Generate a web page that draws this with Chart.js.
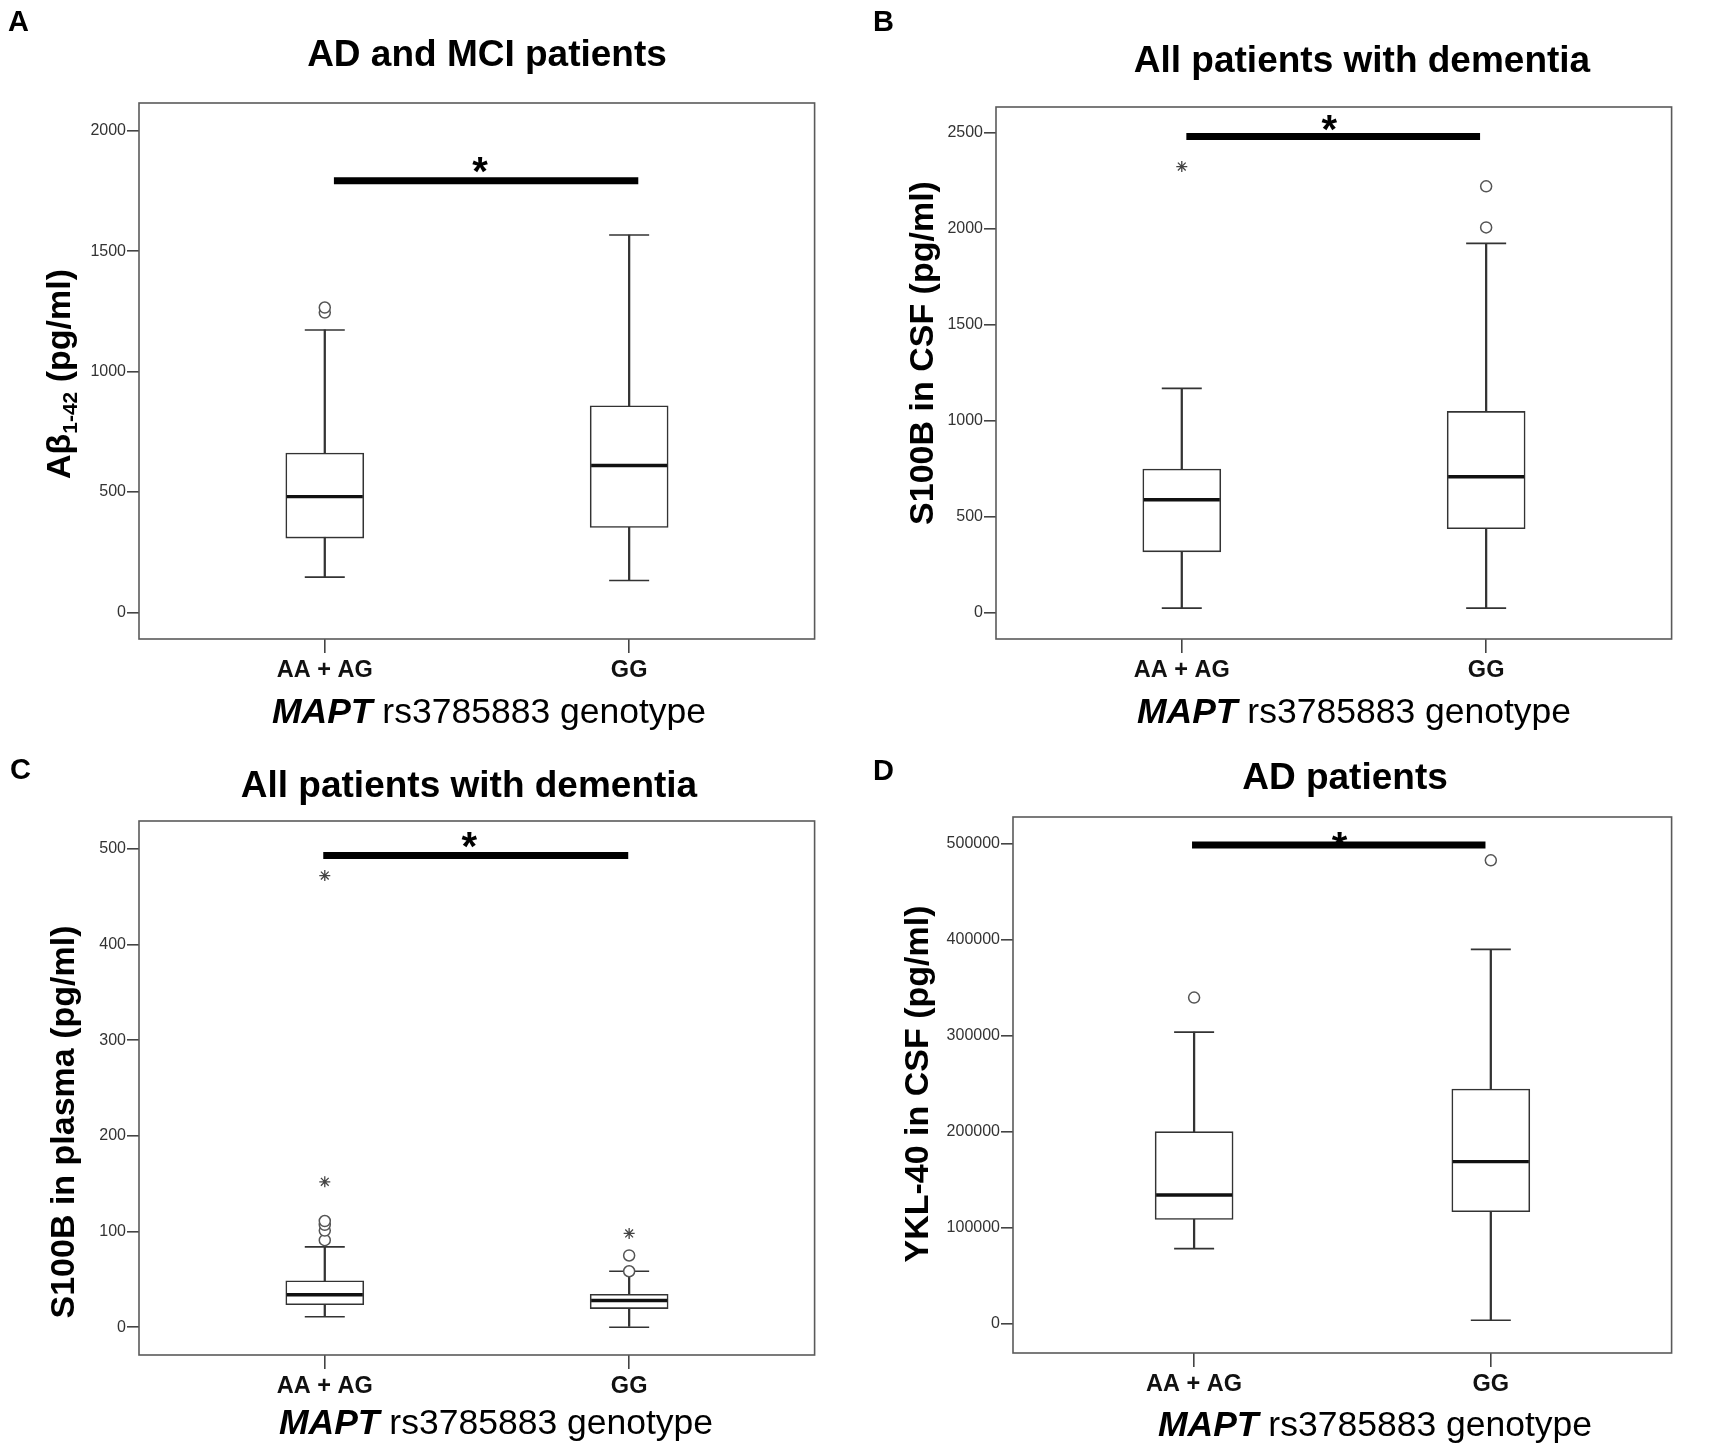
<!DOCTYPE html>
<html>
<head>
<meta charset="utf-8">
<script src="https://cdn.jsdelivr.net/npm/chart.js@4.4.1/dist/chart.umd.min.js"></script>
<style>
  html, body { margin: 0; padding: 0; background: #fff; }
  #page { position: relative; width: 1713px; height: 1448px; background: #fff; overflow: hidden; }
  #page canvas { position: absolute; }
</style>
</head>
<body>
<div id="page">
  <canvas id="panelA" width="856" height="750" style="left:0;top:0"></canvas>
  <canvas id="panelB" width="857" height="750" style="left:856px;top:0"></canvas>
  <canvas id="panelC" width="856" height="724" style="left:0;top:724px"></canvas>
  <canvas id="panelD" width="857" height="724" style="left:856px;top:724px"></canvas>
</div>
<script>
// genotype groups, shared by every panel
const genotypes = ['AA + AG', 'GG']
const xTitleRuns = [['MAPT', 'italic'], [' rs3785883 genotype', 'normal']]

// A - Abeta 1-42, AD and MCI patients
const aTitle = 'AD and MCI patients'
const aYTitle = [['Aβ', 'normal'], ['1-42', 'sub'], [' (pg/ml)', 'normal']]
const aLow = [147, 133]
const aQ1 = [309, 353]
const aMedian = [481, 610]
const aQ3 = [662, 858]
const aHigh = [1173, 1567]
const aOutliers = [[1245, 1266], []]
const aExtremes = [[], []]
const aTicks = [0, 500, 1000, 1500, 2000]
const aRange = [-110, 2115]
const aBracket = [1.03, 2.03, 1792]
const aStar = [1.51, 1872]

// B - S100B in CSF, all patients with dementia
const bTitle = 'All patients with dementia'
const bYTitle = [['S100B in CSF (pg/ml)', 'normal']]
const bLow = [26, 26]
const bQ1 = [319, 439]
const bMedian = [590, 710]
const bQ3 = [750, 1050]
const bHigh = [1170, 1925]
const bOutliers = [[], [2008, 2222]]
const bExtremes = [[2325], []]
const bTicks = [0, 500, 1000, 1500, 2000, 2500]
const bRange = [-135, 2635]
const bBracket = [1.015, 1.98, 2481]
const bStar = [1.485, 2567]

// C - S100B in plasma, all patients with dementia
const cTitle = 'All patients with dementia'
const cYTitle = [['S100B in plasma (pg/ml)', 'normal']]
const cLow = [11, 0]
const cQ1 = [23.5, 19.5]
const cMedian = [34, 28]
const cQ3 = [48.5, 34.5]
const cHigh = [84, 58.5]
const cOutliers = [[91, 101, 107, 111], [58.5, 75]]
const cExtremes = [[152, 472], [98]]
const cTicks = [0, 100, 200, 300, 400, 500]
const cRange = [-29, 529]
const cBracket = [0.995, 1.997, 493]
const cStar = [1.475, 512]

// D - YKL-40 in CSF, AD patients
const dTitle = 'AD patients'
const dYTitle = [['YKL-40 in CSF (pg/ml)', 'normal']]
const dLow = [78500, 3900]
const dQ1 = [108900, 117000]
const dMedian = [134400, 169100]
const dQ3 = [200400, 244700]
const dHigh = [304000, 390200]
const dOutliers = [[340000], [483000]]
const dExtremes = [[], []]
const dTicks = [0, 100000, 200000, 300000, 400000, 500000]
const dRange = [-30200, 528100]
const dBracket = [0.993, 1.982, 499000]
const dStar = [1.49, 507700]

const xRange = [0.3896, 2.6093]
const groupX = [1, 2]
const FONT = '"Liberation Sans", Arial, Helvetica, sans-serif'

// draws a line of mixed-style text centred on (0, 0) of the current transform
function drawRuns(ctx, runs, size, weight) {
  const fontFor = k => {
    const w = weight === 'bold' || k === 'italic' ? 'bold ' : ''
    if (k === 'italic') return `italic bold ${size}px ${FONT}`
    if (k === 'sub') return `${w}${Math.round(size * 0.62)}px ${FONT}`
    return `${w}${size}px ${FONT}`
  }
  let total = 0
  const widths = runs.map(([txt, k]) => {
    ctx.font = fontFor(k)
    const w = ctx.measureText(txt).width
    total += w
    return w
  })
  let x = -total / 2
  ctx.textAlign = 'left'
  ctx.textBaseline = 'alphabetic'
  runs.forEach(([txt, k], i) => {
    ctx.font = fontFor(k)
    ctx.fillText(txt, x, k === 'sub' ? size * 0.55 : size * 0.36)
    x += widths[i]
  })
}

const panelDecor = {
  id: 'panelDecor',
  afterDraw(chart, args, o) {
    const { ctx, chartArea: a, scales: { x, y } } = chart
    ctx.save()
    ctx.strokeStyle = '#5a5a5a'
    ctx.lineWidth = 1.6
    ctx.strokeRect(a.left, a.top, a.right - a.left, a.bottom - a.top)

    ctx.fillStyle = '#000'
    ctx.font = `bold 29px ${FONT}`
    ctx.textAlign = 'left'
    ctx.textBaseline = 'middle'
    ctx.fillText(o.letter, o.letterAt[0], o.letterAt[1])

    ctx.font = `bold 37px ${FONT}`
    ctx.textAlign = 'center'
    ctx.fillText(o.title, o.titleAt[0], o.titleAt[1])

    // significance asterisk, anchored on the data scales
    ctx.font = `bold 40px ${FONT}`
    ctx.textBaseline = 'alphabetic'
    ctx.fillText('*', x.getPixelForValue(o.star[0]), y.getPixelForValue(o.star[1]) + 23)

    ctx.save()
    ctx.translate(o.yTitleAt[0], o.yTitleAt[1])
    ctx.rotate(-Math.PI / 2)
    drawRuns(ctx, o.yTitle, 34, 'bold')
    ctx.restore()

    ctx.save()
    ctx.translate(o.xTitleAt[0], o.xTitleAt[1])
    drawRuns(ctx, xTitleRuns, 35.5, 'normal')
    ctx.restore()
    ctx.restore()
  }
}

function boxPanel(id, p) {
  const canvas = document.getElementById(id)
  const W = canvas.width
  const H = canvas.height
  const f = p.frame
  const points = (lists) => lists.flatMap((vals, i) => vals.map(v => ({ x: groupX[i], y: v })))

  const datasets = [
    {
      type: 'bar', label: 'whisker', grouped: false, order: 6,
      data: groupX.map((gx, i) => ({ x: gx, y: [p.low[i], p.high[i]] })),
      barThickness: 1.6, backgroundColor: '#333', borderWidth: 0
    },
    {
      type: 'bar', label: 'box', grouped: false, order: 5,
      data: groupX.map((gx, i) => ({ x: gx, y: [p.q1[i], p.q3[i]] })),
      barThickness: 78, backgroundColor: '#fff', borderColor: '#333',
      borderWidth: 1.6, borderSkipped: false
    },
    {
      type: 'scatter', label: 'median', order: 4,
      data: groupX.map((gx, i) => ({ x: gx, y: p.median[i] })),
      pointStyle: 'line', pointRadius: 38, pointBorderWidth: 3.4, pointBorderColor: '#111'
    },
    {
      type: 'scatter', label: 'caps', order: 4,
      data: points([[p.low[0], p.high[0]], [p.low[1], p.high[1]]]),
      pointStyle: 'line', pointRadius: 20, pointBorderWidth: 1.6, pointBorderColor: '#333'
    },
    {
      type: 'scatter', label: 'outliers', order: 3,
      data: points(p.outliers),
      pointStyle: 'circle', pointRadius: 5.5, pointBorderWidth: 1.5,
      pointBorderColor: '#555', pointBackgroundColor: '#fff'
    },
    {
      type: 'scatter', label: 'extremes', order: 3,
      data: points(p.extremes),
      pointStyle: 'star', pointRadius: 5.5, pointBorderWidth: 1.3, pointBorderColor: '#444'
    },
    {
      type: 'line', label: 'signif', order: 2,
      data: [{ x: p.bracket[0], y: p.bracket[2] }, { x: p.bracket[1], y: p.bracket[2] }],
      borderColor: '#000', borderWidth: 7, borderCapStyle: 'butt', pointRadius: 0, fill: false
    }
  ]

  return new Chart(canvas, {
    type: 'scatter',
    data: { datasets },
    options: {
      responsive: false,
      animation: false,
      devicePixelRatio: 1,
      events: [],
      layout: { padding: { left: 0, top: f.top, right: W - f.right, bottom: 0 } },
      plugins: {
        legend: { display: false },
        tooltip: { enabled: false },
        panelDecor: p.decor
      },
      scales: {
        x: {
          type: 'linear', min: xRange[0], max: xRange[1], offset: false,
          afterBuildTicks: s => { s.ticks = groupX.map(v => ({ value: v })) },
          afterFit: s => { s.height = H - f.bottom },
          border: { display: false },
          grid: { offset: false, drawOnChartArea: false, drawTicks: true, tickLength: 14, color: '#444', lineWidth: 1.6 },
          ticks: {
            callback: (v, i) => genotypes[i],
            font: { family: FONT, size: 23.5, weight: 'bold' }, color: '#111',
            padding: 3, maxRotation: 0, autoSkip: false
          }
        },
        y: {
          type: 'linear', min: p.range[0], max: p.range[1],
          afterBuildTicks: s => { s.ticks = p.ticks.map(v => ({ value: v })) },
          afterFit: s => { s.width = f.left },
          border: { display: false },
          grid: { offset: false, drawOnChartArea: false, drawTicks: true, tickLength: 12, color: '#444', lineWidth: 1.6 },
          ticks: {
            callback: v => String(v),
            font: { family: FONT, size: 16 }, color: '#333', padding: 1
          }
        }
      }
    },
    plugins: [panelDecor]
  })
}

boxPanel('panelA', {
  low: aLow, q1: aQ1, median: aMedian, q3: aQ3, high: aHigh,
  outliers: aOutliers, extremes: aExtremes, ticks: aTicks, range: aRange, bracket: aBracket,
  frame: { left: 139, top: 103, right: 824, bottom: 639 },
  decor: { letter: 'A', letterAt: [8, 23], title: aTitle, titleAt: [487, 56], star: aStar,
           yTitle: aYTitle, yTitleAt: [58, 374], xTitleAt: [489, 710] }
})

boxPanel('panelB', {
  low: bLow, q1: bQ1, median: bMedian, q3: bQ3, high: bHigh,
  outliers: bOutliers, extremes: bExtremes, ticks: bTicks, range: bRange, bracket: bBracket,
  frame: { left: 140, top: 107, right: 849, bottom: 639 },
  decor: { letter: 'B', letterAt: [17, 23], title: bTitle, titleAt: [506, 62], star: bStar,
           yTitle: bYTitle, yTitleAt: [65, 353], xTitleAt: [498, 710] }
})

boxPanel('panelC', {
  low: cLow, q1: cQ1, median: cMedian, q3: cQ3, high: cHigh,
  outliers: cOutliers, extremes: cExtremes, ticks: cTicks, range: cRange, bracket: cBracket,
  frame: { left: 139, top: 97, right: 824, bottom: 631 },
  decor: { letter: 'C', letterAt: [10, 47], title: cTitle, titleAt: [469, 63], star: cStar,
           yTitle: cYTitle, yTitleAt: [62, 398], xTitleAt: [496, 697] }
})

boxPanel('panelD', {
  low: dLow, q1: dQ1, median: dMedian, q3: dQ3, high: dHigh,
  outliers: dOutliers, extremes: dExtremes, ticks: dTicks, range: dRange, bracket: dBracket,
  frame: { left: 157, top: 93, right: 849, bottom: 629 },
  decor: { letter: 'D', letterAt: [17, 48], title: dTitle, titleAt: [489, 55], star: dStar,
           yTitle: dYTitle, yTitleAt: [60, 360], xTitleAt: [519, 699] }
})
</script>
</body>
</html>
